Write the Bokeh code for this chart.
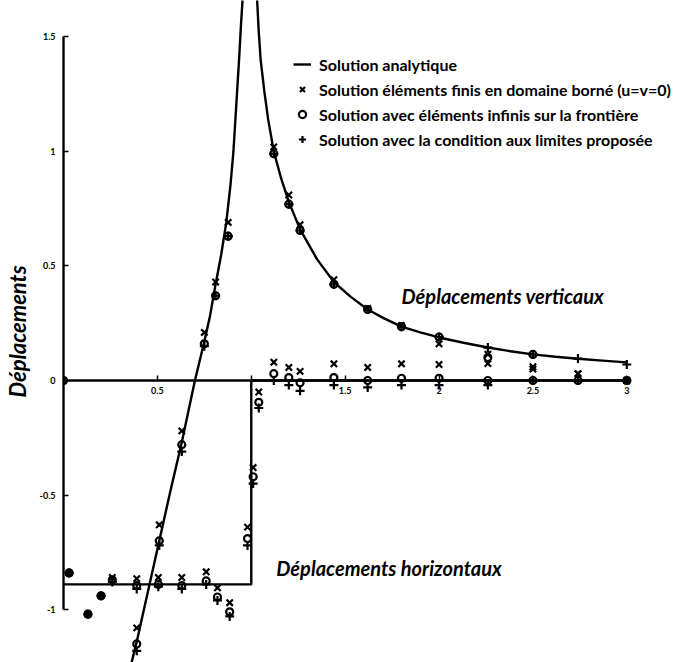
from bokeh.plotting import figure
from bokeh.models import FixedTicker, Legend, LegendItem, Range1d
from bokeh.core.properties import value
from bokeh.embed import file_html
from bokeh.resources import INLINE

# ---------------- data ----------------
# analytic vertical displacement, left branch (up to the singularity near x=1)
ana_v_left_x = [0.36, 0.39, 0.45, 0.51, 0.57, 0.63, 0.70, 0.75, 0.78, 0.81, 0.84,
                0.867, 0.89, 0.905, 0.92, 0.935, 0.945, 0.955]
ana_v_left_y = [-1.24, -1.14, -0.92, -0.70, -0.48, -0.27, 0.0, 0.17, 0.28, 0.42, 0.55,
                0.69, 0.86, 1.0, 1.2, 1.4, 1.55, 1.68]
# analytic vertical displacement, right branch
ana_v_right_x = [1.03, 1.04, 1.05, 1.07, 1.09, 1.12, 1.16, 1.2, 1.26, 1.35, 1.44, 1.53,
                 1.62, 1.71, 1.8, 1.9, 2.0, 2.13, 2.26, 2.38, 2.5, 2.62, 2.74, 2.87, 3.0]
ana_v_right_y = [1.68, 1.52, 1.40, 1.26, 1.14, 1.0, 0.88, 0.78, 0.66, 0.53, 0.43, 0.365,
                 0.31, 0.27, 0.235, 0.21, 0.188, 0.165, 0.144, 0.128, 0.114, 0.104, 0.095,
                 0.087, 0.079]
# analytic horizontal displacement (step)
ana_h_x = [0.0, 1.0, 1.0, 3.0]
ana_h_y = [-0.89, -0.89, 0.0, 0.0]

# numerical results - vertical displacements
vert_x_nodes = [0.0, 0.39, 0.51, 0.63, 0.75, 0.81, 0.877, 1.12, 1.2, 1.26, 1.44, 1.62,
                1.8, 2.0, 2.26, 2.5, 2.74, 3.0]
vert_fe_bounded = [0.0, -1.08, -0.63, -0.22, 0.21, 0.43, 0.69, 1.02, 0.81, 0.68, 0.44,
                   0.315, 0.24, 0.16, 0.115, 0.06, 0.03, 0.0]
vert_inf_x_nodes = [0.0, 0.39, 0.51, 0.63, 0.75, 0.81, 0.877, 1.12, 1.2, 1.26, 1.44,
                    1.62, 1.8, 2.0, 2.26, 2.5]
vert_inf_elem = [0.0, -1.15, -0.70, -0.28, 0.16, 0.37, 0.63, 0.99, 0.77, 0.655, 0.42,
                 0.31, 0.235, 0.19, 0.10, 0.114]
vert_proposed = [0.0, -1.18, -0.72, -0.31, 0.15, 0.37, 0.63, 0.99, 0.77, 0.655, 0.42,
                 0.31, 0.235, 0.19, 0.144, 0.114, 0.096, 0.07]

# numerical results - horizontal displacements
horiz_x_nodes = [0.03, 0.13, 0.2, 0.26, 0.39, 0.505, 0.63, 0.76, 0.82, 0.885, 0.98,
                 1.01, 1.04, 1.12, 1.2, 1.26, 1.44, 1.62, 1.8, 2.0, 2.26, 2.5, 2.74, 3.0]
horiz_fe_bounded = [-0.84, -1.02, -0.94, -0.86, -0.865, -0.86, -0.86, -0.835, -0.905,
                    -0.97, -0.64, -0.38, -0.05, 0.08, 0.057, 0.04, 0.073, 0.057, 0.073,
                    0.07, 0.074, 0.05, 0.03, 0.0]
horiz_inf_elem = [-0.84, -1.02, -0.94, -0.87, -0.895, -0.89, -0.895, -0.875, -0.945,
                  -1.01, -0.69, -0.42, -0.095, 0.03, 0.013, -0.01, 0.013, 0.0, 0.01,
                  0.01, 0.0, 0.0, 0.0, 0.0]
horiz_proposed = [-0.84, -1.02, -0.94, -0.88, -0.91, -0.90, -0.91, -0.89, -0.96, -1.03,
                  -0.72, -0.45, -0.12, 0.0, -0.02, -0.045, -0.02, -0.03, -0.02, -0.02,
                  -0.02, 0.0, 0.0, 0.0]

x_ticks = [0.5, 1, 1.5, 2, 2.5, 3]
x_tick_labels = ["0.5", "", "1.5", "2", "2.5", "3"]
y_ticks = [-1, -0.5, 0, 0.5, 1, 1.5]
y_tick_labels = ["-1", "-0.5", "0", "0.5", "1", "1.5"]

legend_labels = ["Solution analytique",
                 "Solution éléments finis en domaine borné (u=v=0)",
                 "Solution avec éléments infinis sur la frontière",
                 "Solution avec la condition aux limites proposée"]

# ---------------- figure ----------------
FONT = "Lato"
p = figure(width=677, height=662, output_backend="svg", toolbar_location=None,
           x_range=Range1d(0, 3.27), y_range=Range1d(-1.231, 1.659),
           min_border_left=62, min_border_right=0, min_border_top=0,
           min_border_bottom=0)
p.grid.visible = False
p.outline_line_color = None

# x axis crossing at y = 0
xa = p.xaxis[0]
xa.fixed_location = 0
xa.ticker = FixedTicker(ticks=x_ticks)
xa.major_label_overrides = {t: l for t, l in zip(x_ticks, x_tick_labels)}
xa.bounds = (0, 3)
xa.axis_line_width = 2.4
xa.axis_line_color = "black"
xa.major_tick_in = 5
xa.major_tick_out = 0
xa.major_tick_line_width = 1.5
xa.major_tick_line_color = "black"
xa.minor_tick_line_color = None
xa.major_label_standoff = 6
xa.major_label_text_font = FONT
xa.major_label_text_font_size = "9px"
xa.major_label_text_font_style = "bold"
xa.major_label_text_color = "black"

ya = p.yaxis[0]
ya.ticker = FixedTicker(ticks=y_ticks)
ya.major_label_overrides = {t: l for t, l in zip(y_ticks, y_tick_labels)}
ya.bounds = (-1, 1.5)
ya.axis_line_width = 2.4
ya.axis_line_color = "black"
ya.major_tick_in = 5
ya.major_tick_out = 0
ya.major_tick_line_width = 1.5
ya.major_tick_line_color = "black"
ya.minor_tick_line_color = None
ya.major_label_standoff = 8
ya.major_label_text_font = FONT
ya.major_label_text_font_size = "9px"
ya.major_label_text_font_style = "bold"
ya.major_label_text_color = "black"
ya.axis_label = "Déplacements"
ya.axis_label_text_font = FONT
ya.axis_label_text_font_style = "bold italic"
ya.axis_label_text_font_size = "22px"
ya.axis_label_text_color = "black"
ya.axis_label_standoff = 6

# analytic curves
l1 = p.line(ana_v_left_x, ana_v_left_y, line_color="black", line_width=2.4)
p.line(ana_v_right_x, ana_v_right_y, line_color="black", line_width=2.4)
p.line(ana_h_x, ana_h_y, line_color="black", line_width=2.4)

MS = dict(color="black", line_width=2.2)
# vertical displacement markers
sx = p.scatter(vert_x_nodes, vert_fe_bounded, marker="x", size=9, **MS)
so = p.scatter(vert_inf_x_nodes, vert_inf_elem, marker="circle", size=7,
               fill_color=None, line_color="black", line_width=2.2)
sp = p.scatter(vert_x_nodes, vert_proposed, marker="cross", size=9, **MS)
# horizontal displacement markers
p.scatter(horiz_x_nodes, horiz_fe_bounded, marker="x", size=9, **MS)
p.scatter(horiz_x_nodes, horiz_inf_elem, marker="circle", size=7,
          fill_color=None, line_color="black", line_width=2.2)
p.scatter(horiz_x_nodes, horiz_proposed, marker="cross", size=9, **MS)

# curve annotations
p.text(x=[1.80], y=[0.37], text=["Déplacements verticaux"], text_font=value(FONT),
       text_font_style="bold italic", text_font_size="20px", text_baseline="middle",
       text_color="black")
p.text(x=[1.133], y=[-0.817], text=["Déplacements horizontaux"], text_font=value(FONT),
       text_font_style="bold italic", text_font_size="20px", text_baseline="middle",
       text_color="black")

legend = Legend(items=[LegendItem(label=legend_labels[0], renderers=[l1]),
                       LegendItem(label=legend_labels[1], renderers=[sx]),
                       LegendItem(label=legend_labels[2], renderers=[so]),
                       LegendItem(label=legend_labels[3], renderers=[sp])],
                location=(230, 513), padding=0, margin=0, spacing=5,
                glyph_width=18, glyph_height=20, label_height=20, label_standoff=8,
                label_text_font=FONT, label_text_font_size="16px",
                label_text_font_style="bold", label_text_color="black",
                border_line_color=None, background_fill_alpha=0)
p.add_layout(legend)

open("out.html", "w").write(file_html(p, INLINE))
